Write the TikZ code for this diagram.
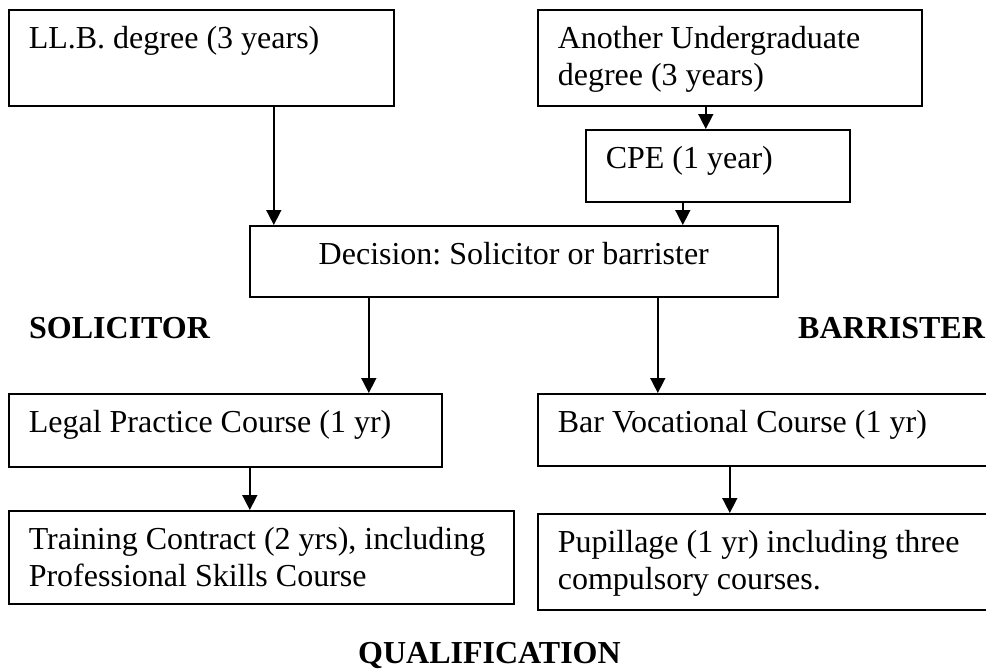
\documentclass[tikz,border=0pt]{standalone}
\usepackage{fontspec}
\setmainfont{Liberation Serif}
\usetikzlibrary{positioning, arrows.meta}

\begin{document}
\begin{tikzpicture}[
    x=1pt, y=-1pt,
    every node/.style={font=\fontsize{32}{37}\selectfont\frenchspacing},
    stage/.style={rectangle, draw, line width=1.6pt, anchor=north west, align=flush left, inner xsep=20pt, inner ysep=0pt, text height=39pt},
    heading/.style={anchor=base west, inner sep=0pt, font=\fontsize{32}{37}\selectfont\bfseries},
    arrow/.style={-{Triangle[length=15pt, width=15pt]}, line width=1.6pt}
]

% Page frame
\useasboundingbox (0,0) rectangle (986,672);
\clip (0,0) rectangle (986,672);

% Degrees
\node[stage, text width=345pt, text depth=57pt] (llb) at (8,9) {LL.B. degree (3 years)};
\node[stage, text width=344pt, text depth=57pt] (other) at (537,9) {Another Undergraduate\\degree (3 years)};
\node[stage, text width=224pt, text depth=33pt] (cpe) at (585,129) {CPE (1 year)};

% Decision
\node[stage, text width=488pt, text depth=32pt, align=flush center] (decision) at (249,225) {Decision: Solicitor or barrister};

% Two routes
\node[heading] (solicitor) at (29,338) {SOLICITOR};
\node[heading] (barrister) at (798,338) {BARRISTER};

\node[stage, text width=393pt, text depth=34pt] (lpc) at (8,393) {Legal Practice Course (1 yr)};
\node[stage, text width=423pt, text depth=33pt] (bvc) at (537,393) {Bar Vocational Course (1 yr)};
\node[stage, text width=465pt, text depth=54pt] (training) at (8,510) {Training Contract (2 yrs), including\\Professional Skills Course};
\node[stage, text width=423pt, text depth=57pt] (pupillage) at (537,513) {Pupillage (1 yr) including three\\compulsory courses.};

\node[heading] (qualification) at (358,663) {QUALIFICATION};

% Arrows (source/target/shift at source/shift at target)
\foreach \a/\b/\sa/\sb in {llb/decision/72.5/-240, other/cpe/-24/-12, cpe/decision/-35/169,
    decision/lpc/-145/143.5, decision/bvc/144/-111.5, lpc/training/24.5/-11.5, bvc/pupillage/-39.5/-39.5} {
    \draw[arrow] ([xshift=\sa pt]\a.south) -- ([xshift=\sb pt]\b.north);
}

\end{tikzpicture}
\end{document}
